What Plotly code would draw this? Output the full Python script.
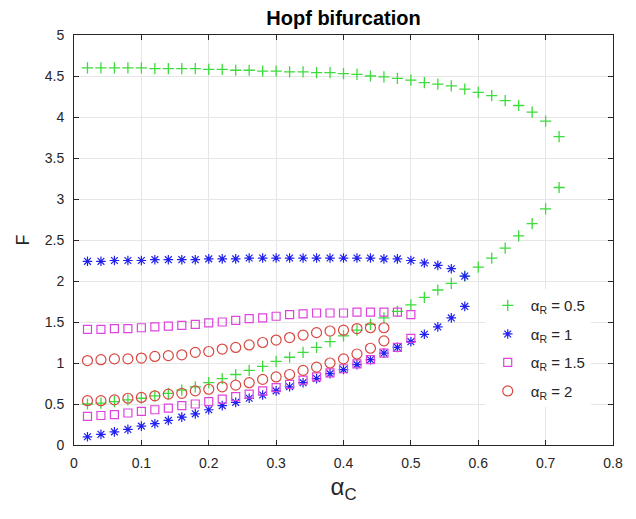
import plotly.graph_objects as go

alpha_c = [0.02, 0.04, 0.06, 0.08, 0.10, 0.12, 0.14, 0.16, 0.18, 0.20,
           0.22, 0.24, 0.26, 0.28, 0.30, 0.32, 0.34, 0.36, 0.38, 0.40,
           0.42, 0.44, 0.46, 0.48, 0.50, 0.52, 0.54, 0.56, 0.58, 0.60,
           0.62, 0.64, 0.66, 0.68, 0.70, 0.72]

# alpha_R = 0.5 (36 points)
g_upper = [4.60, 4.60, 4.60, 4.60, 4.60, 4.59, 4.59, 4.59, 4.59, 4.58,
           4.58, 4.57, 4.57, 4.56, 4.56, 4.55, 4.55, 4.54, 4.54, 4.53,
           4.52, 4.50, 4.49, 4.47, 4.45, 4.42, 4.40, 4.38, 4.34, 4.30,
           4.26, 4.20, 4.14, 4.06, 3.95, 3.76]
g_lower = [0.50, 0.51, 0.53, 0.55, 0.57, 0.60, 0.63, 0.67, 0.71, 0.76,
           0.81, 0.86, 0.91, 0.96, 1.02, 1.07, 1.13, 1.19, 1.26, 1.33,
           1.40, 1.47, 1.55, 1.63, 1.71, 1.80, 1.89, 1.97, 2.06, 2.17,
           2.28, 2.40, 2.55, 2.70, 2.88, 3.14]

# alpha_R = 1 (29 points)
b_upper = [2.24, 2.24, 2.25, 2.25, 2.25, 2.26, 2.26, 2.26, 2.26, 2.27,
           2.27, 2.27, 2.28, 2.28, 2.28, 2.28, 2.28, 2.28, 2.28, 2.28,
           2.28, 2.28, 2.27, 2.27, 2.25, 2.22, 2.19, 2.15, 2.06]
b_lower = [0.10, 0.13, 0.16, 0.19, 0.23, 0.26, 0.30, 0.34, 0.38, 0.43,
           0.48, 0.52, 0.57, 0.61, 0.66, 0.71, 0.76, 0.81, 0.87, 0.92,
           0.98, 1.04, 1.12, 1.19, 1.26, 1.35, 1.44, 1.55, 1.69]

# alpha_R = 1.5 (25 points)
m_upper = [1.41, 1.41, 1.42, 1.42, 1.43, 1.44, 1.45, 1.46, 1.47, 1.49,
           1.50, 1.52, 1.54, 1.55, 1.57, 1.59, 1.60, 1.61, 1.61, 1.61,
           1.62, 1.62, 1.62, 1.62, 1.59]
m_lower = [0.35, 0.36, 0.37, 0.39, 0.41, 0.43, 0.45, 0.48, 0.50, 0.53,
           0.56, 0.59, 0.62, 0.66, 0.70, 0.74, 0.79, 0.83, 0.88, 0.93,
           0.99, 1.04, 1.12, 1.19, 1.30]

# alpha_R = 2 (23 points)
r_upper = [1.03, 1.04, 1.05, 1.05, 1.06, 1.08, 1.09, 1.10, 1.13, 1.14,
           1.17, 1.19, 1.22, 1.25, 1.28, 1.31, 1.34, 1.37, 1.39, 1.40,
           1.42, 1.43, 1.43]
r_lower = [0.54, 0.54, 0.55, 0.57, 0.58, 0.60, 0.62, 0.63, 0.66, 0.68,
           0.71, 0.73, 0.76, 0.80, 0.83, 0.86, 0.91, 0.95, 1.00, 1.05,
           1.11, 1.18, 1.27]

x_ticks = [0, 0.1, 0.2, 0.3, 0.4, 0.5, 0.6, 0.7, 0.8]
x_tick_labels = ["0", "0.1", "0.2", "0.3", "0.4", "0.5", "0.6", "0.7", "0.8"]
y_ticks = [0, 0.5, 1, 1.5, 2, 2.5, 3, 3.5, 4, 4.5, 5]
y_tick_labels = ["0", "0.5", "1", "1.5", "2", "2.5", "3", "3.5", "4", "4.5", "5"]

series = [
    ("α<sub>R</sub> = 0.5", g_upper, g_lower, "cross-thin-open", 8, "#3ddb3d", 1.3),
    ("α<sub>R</sub> = 1", b_upper, b_lower, "asterisk-open", 8, "#2020f0", 1.2),
    ("α<sub>R</sub> = 1.5", m_upper, m_lower, "square-open", 8, "#dd44dd", 1.2),
    ("α<sub>R</sub> = 2", r_upper, r_lower, "circle-open", 10, "#d94842", 1.2),
]

fig = go.Figure()
for i, (name, up, lo, sym, size, col, lw) in enumerate(series):
    n = len(up)
    xs = alpha_c[:n] + alpha_c[:n]
    ys = up + lo
    fig.add_trace(go.Scatter(
        x=xs, y=ys, mode="markers", name=name, legendgroup="g%d" % i,
        marker=dict(symbol=sym, size=size, color=col, line=dict(color=col, width=lw)),
    ))

axis_common = dict(
    showline=True, linecolor="#262626", linewidth=1, mirror="allticks",
    ticks="inside", ticklen=5, tickcolor="#262626",
    showgrid=True, gridcolor="#e6e6e6", gridwidth=1, zeroline=False,
    tickfont=dict(family="Liberation Sans, Arial, sans-serif", size=14, color="#262626"),
)

fig.update_layout(
    width=636, height=519,
    margin=dict(l=74, r=23, t=35, b=74),
    paper_bgcolor="white", plot_bgcolor="white",
    font=dict(family="Liberation Sans, Arial, sans-serif", color="#262626"),
    title=dict(text="<b>Hopf bifurcation</b>", x=0.5, xanchor="center", xref="paper",
               y=1 - 18 / 519, yanchor="middle",
               font=dict(size=20, color="#000000")),
    xaxis=dict(range=[0, 0.8], tickvals=x_ticks, ticktext=x_tick_labels,
               ticklabelstandoff=5,
               title=dict(text="α<sub>C</sub>", font=dict(size=24, color="#262626"), standoff=8),
               **axis_common),
    yaxis=dict(range=[0, 5], tickvals=y_ticks, ticktext=y_tick_labels,
               ticklabelstandoff=6,
               title=dict(text="F", font=dict(size=18, color="#262626"), standoff=10),
               **axis_common),
    legend=dict(x=0.762, y=0.38, xanchor="left", yanchor="top",
                bgcolor="white", borderwidth=0,
                font=dict(size=15, color="#262626"),
                itemwidth=36, traceorder="grouped", tracegroupgap=6),
    showlegend=True,
)

fig.write_html("out.html")
